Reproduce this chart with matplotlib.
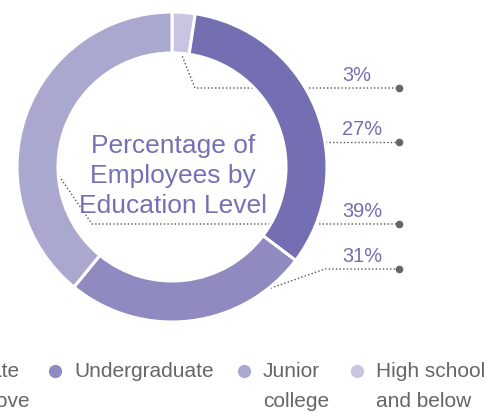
import matplotlib
matplotlib.use("Agg")
import matplotlib.pyplot as plt

# ---------------- data ----------------
categories = ["Graduate\nand above", "Undergraduate", "Junior\ncollege", "High school\nand below"]
shares = [32.9, 25.6, 39.1, 2.4]
pct_labels = ["27%", "31%", "39%", "3%"]   # label texts shown on the chart
title = "Percentage of\nEmployees by\nEducation Level"
colors = ["#736fb2", "#8f8abf", "#aaa8ce", "#c8c5e2"]

# ---------------- layout ----------------
W, H = 486, 413
plt.rcParams['font.family'] = ['Liberation Sans', 'DejaVu Sans']
fig = plt.figure(figsize=(W / 100, H / 100), dpi=100)
ax = fig.add_axes([0, 0, 1, 1])


def Y(y):
    return H - y


cx, cy, R, ring = 172, 167, 155, 41
order = [3, 0, 1, 2]  # clockwise from 12 o'clock
wedges, _ = ax.pie([shares[i] for i in order],
                   colors=[colors[i] for i in order],
                   center=(cx, Y(cy)), radius=R, startangle=90,
                   counterclock=False,
                   wedgeprops=dict(width=ring, edgecolor='white', linewidth=2.2))
for w in wedges:
    w.set_zorder(2)

# leader lines (pixel layout), keyed by category index
leaders = {
    3: [(181, 53), (195, 88), (399, 88)],
    0: [(300, 142), (399, 142)],
    2: [(55, 170), (92, 224), (399, 224)],
    1: [(257, 293), (325, 269), (399, 269)],
}
lab_col = "#736eb2"
for idx, pts in leaders.items():
    xs = [p[0] for p in pts]
    ys = [Y(p[1]) for p in pts]
    ax.plot(xs, ys, color="#555555", lw=1.0, ls=(0, (1, 1.6)), zorder=1)
    ax.plot([xs[-1]], [ys[-1]], 'o', color="#666666", ms=4.5, zorder=3)
    ax.text(342, ys[-1] + 7, pct_labels[idx], color=lab_col, fontsize=14.4,
            ha='left', va='baseline', zorder=4)

# centre title
ax.text(cx + 1, Y(176), title, color="#7671b5", fontsize=19, ha='center',
        va='center', multialignment='center', linespacing=1.32, zorder=4)

# legend (manual)
leg_x = [-87, 55, 244, 357]
for i, name in enumerate(categories):
    ax.plot([leg_x[i]], [Y(371)], 'o', color=colors[i], ms=8.5, clip_on=False)
    ax.text(leg_x[i] + 19, Y(362), name, color="#666666", fontsize=15,
            ha='left', va='top', linespacing=1.75)

ax.set_xlim(0, W)
ax.set_ylim(0, H)
ax.axis('off')
fig.savefig("out.png", dpi=100)
